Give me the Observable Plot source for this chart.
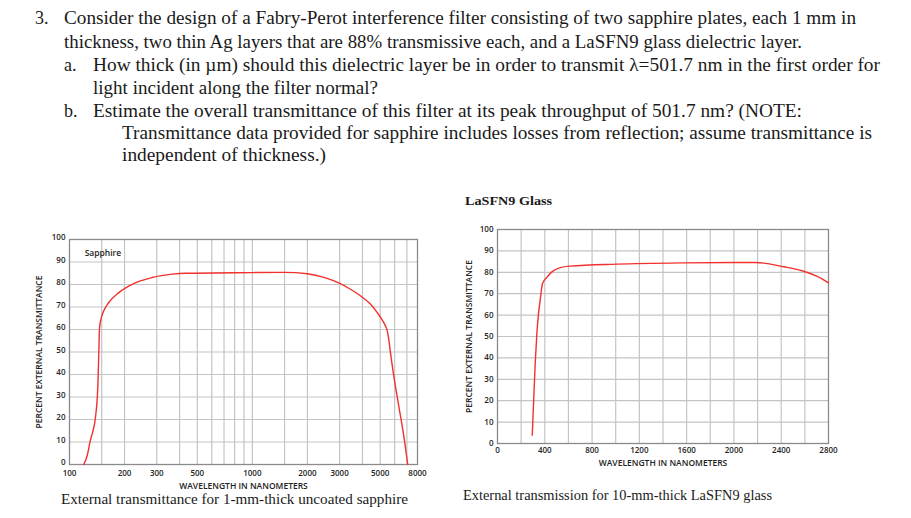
<!DOCTYPE html>
<html>
<head>
<meta charset="utf-8">
<script src="https://cdn.jsdelivr.net/npm/d3@7"></script>
<script src="https://cdn.jsdelivr.net/npm/@observablehq/plot@0.6"></script>
<style>
  html, body { margin: 0; padding: 0; background: #fff; }
  body { width: 911px; height: 518px; position: relative; overflow: hidden; }
  .ln { position: absolute; white-space: nowrap; font-family: "Liberation Serif", serif; font-size: 18px; line-height: 22px; color: #1a1a1a; transform-origin: left center; }
  .cap { position: absolute; white-space: nowrap; font-family: "Liberation Serif", serif; font-size: 14px; line-height: 16px; color: #1a1a1a; transform-origin: left center; }
  .ttl { position: absolute; white-space: nowrap; font-family: "Liberation Serif", serif; font-weight: bold; font-size: 12px; line-height: 14px; color: #1a1a1a; transform-origin: left center; }
  .chart { position: absolute; }
</style>
</head>
<body>
<script>
// ---- Data ----
const sapphireWavelength = [119.7, 125, 130, 134, 138.7, 142.8, 144.6, 145.9, 148.5, 153, 164, 186, 220, 283, 365, 431, 1000, 1500, 2000, 2348, 2990, 3440, 3900, 4420, 4810, 5125, 5343, 5450, 5569, 5689, 5933, 6317, 6727, 7073];
const sapphireTransmittance = [0, 4, 10.7, 14.5, 21, 34.4, 49.2, 60.5, 64.5, 67.8, 72, 76.4, 80.1, 83.1, 84.6, 85, 85.3, 85.4, 84.8, 83.6, 80.6, 77.9, 75.0, 71.3, 67.6, 64.3, 61.6, 59.8, 55.7, 49.8, 39.4, 26.1, 12.8, 0];
const sapphireTickLabels = [100, 200, 300, 500, 1000, 2000, 3000, 5000, 8000];
const sapphireGridX = [150, 200, 300, 400, 500, 600, 700, 800, 900, 1000, 1500, 2000, 3000, 4000, 5000, 6000, 7000];

const lasfnWavelength = [294, 305, 319, 333, 347, 361, 381, 418, 460, 531, 615, 1010, 1575, 2000, 2180, 2420, 2590, 2700, 2800];
const lasfnTransmittance = [3.9, 18.7, 37.4, 51.4, 60.7, 67, 74.8, 77.6, 80.2, 82.2, 82.9, 83.8, 84.4, 84.6, 84.6, 82.6, 80.5, 78.2, 75.1];
const lasfnTickLabels = [0, 400, 800, 1200, 1600, 2000, 2400, 2800];
const lasfnGridX = [200, 400, 600, 800, 1000, 1200, 1400, 1600, 1800, 2000, 2200, 2400, 2600];

const yTicks = [0, 10, 20, 30, 40, 50, 60, 70, 80, 90, 100];
const yGrid = [10, 20, 30, 40, 50, 60, 70, 80, 90];

const questionLines = [
  {num: "3.", numX: 35, text: "Consider the design of a Fabry-Perot interference filter consisting of two sapphire plates, each 1 mm in", x: 64, x2: 856, y: 18},
  {num: "", text: "thickness, two thin Ag layers that are 88% transmissive each, and a LaSFN9 glass dielectric layer.", x: 64, x2: 802, y: 41.5},
  {num: "a.", numX: 64, text: "How thick (in µm) should this dielectric layer be in order to transmit λ=501.7 nm in the first order for", x: 93, x2: 880, y: 65},
  {num: "", text: "light incident along the filter normal?", x: 93, x2: 378, y: 88},
  {num: "b.", numX: 64, text: "Estimate the overall transmittance of this filter at its peak throughput of 501.7 nm? (NOTE:", x: 93, x2: 802, y: 110.5},
  {num: "", text: "Transmittance data provided for sapphire includes losses from reflection; assume transmittance is", x: 122, x2: 872, y: 133},
  {num: "", text: "independent of thickness.)", x: 122, x2: 326, y: 155}
];
const otherTexts = [
  {cls: "ttl", text: "LaSFN9 Glass", x: 465, x2: 552, y: 201},
  {cls: "cap", text: "External transmittance for 1-mm-thick uncoated sapphire", x: 61, x2: 408, y: 500},
  {cls: "cap", text: "External transmission for 10-mm-thick LaSFN9 glass", x: 463, x2: 772, y: 496}
];
const sapphireNote = [{x: 121, y: 94, text: "Sapphire"}];

// ---- Text ----
function place(cls, text, x, x2, y) {
  const el = document.createElement("div");
  el.className = cls;
  el.textContent = text;
  document.body.appendChild(el);
  const h = el.getBoundingClientRect().height;
  el.style.left = x + "px";
  el.style.top = (y - h / 2) + "px";
  if (x2 != null) {
    const w = el.getBoundingClientRect().width;
    el.style.transform = `scaleX(${(x2 - x) / w})`;
  }
  return el;
}
for (const l of questionLines) {
  if (l.num) place("ln", l.num, l.numX, null, l.y);
  place("ln", l.text, l.x, l.x2, l.y);
}
for (const t of otherTexts) place(t.cls, t.text, t.x, t.x2, t.y);

// ---- Charts ----
const red = "#f2302e";
const gridColor = "#c4c4c4";
const axisFont = {fontFamily: "'Open Sans', sans-serif", fontSize: "8px", fontWeight: 600, color: "#222", background: "transparent", overflow: "visible"};

const sapphire = sapphireWavelength.map((w, i) => ({w, t: sapphireTransmittance[i]}));
const chart1 = Plot.plot({
  width: 412, height: 272,
  marginLeft: 49, marginRight: 15, marginTop: 13, marginBottom: 34,
  style: axisFont,
  x: {type: "log", domain: [100, 8000]},
  y: {domain: [0, 100]},
  marks: [
    Plot.gridX(sapphireGridX, {stroke: gridColor, strokeOpacity: 1, strokeWidth: 1.2}),
    Plot.gridY(yGrid, {stroke: gridColor, strokeOpacity: 1, strokeWidth: 1.2}),
    Plot.frame({stroke: "#8a8a8a", strokeWidth: 1.3}),
    Plot.text(sapphireTickLabels, {x: d => d, frameAnchor: "bottom", dy: 11, text: d => String(d), fontSize: 8, fontWeight: 600}),
    Plot.axisX({ticks: [], tickSize: 0, label: "WAVELENGTH IN NANOMETERS", labelAnchor: "center", labelArrow: "none", labelOffset: 24, dx: -10, fontSize: 8.5}),
    Plot.axisY(yTicks, {tickSize: 0, tickPadding: 4, label: null, dy: -2}),
    Plot.axisY({ticks: [], tickSize: 0, label: "PERCENT EXTERNAL TRANSMITTANCE", labelAnchor: "center", labelArrow: "none", labelOffset: 34, fontSize: 8.5}),
    Plot.text(sapphireNote, {x: "x", y: "y", text: "text", textAnchor: "start", fontSize: 8.5, fontWeight: 600}),
    Plot.line(sapphire, {x: "w", y: "t", stroke: red, strokeWidth: 1.4, curve: "monotone-x"})
  ]
});
chart1.classList.add("chart");
chart1.style.left = "20px";
chart1.style.top = "226px";
document.body.appendChild(chart1);

const lasfn = lasfnWavelength.map((w, i) => ({w, t: lasfnTransmittance[i]}));
const chart2 = Plot.plot({
  width: 398, height: 255,
  marginLeft: 47, marginRight: 20, marginTop: 11, marginBottom: 30,
  style: axisFont,
  x: {domain: [0, 2800]},
  y: {domain: [0, 100]},
  marks: [
    Plot.gridX(lasfnGridX, {stroke: gridColor, strokeOpacity: 1, strokeWidth: 1.2}),
    Plot.gridY(yGrid, {stroke: gridColor, strokeOpacity: 1, strokeWidth: 1.2}),
    Plot.frame({stroke: "#8a8a8a", strokeWidth: 1.3}),
    Plot.axisX(lasfnTickLabels, {tickSize: 0, tickPadding: 4, tickFormat: d => String(d), label: null}),
    Plot.axisX({ticks: [], tickSize: 0, label: "WAVELENGTH IN NANOMETERS", labelAnchor: "center", labelArrow: "none", labelOffset: 22, dx: 15, fontSize: 8.5}),
    Plot.axisY(yTicks, {tickSize: 0, tickPadding: 4, label: null}),
    Plot.axisY({ticks: [], tickSize: 0, label: "PERCENT EXTERNAL TRANSMITTANCE", labelAnchor: "center", labelArrow: "none", labelOffset: 32, fontSize: 8.5}),
    Plot.line(lasfn, {x: "w", y: "t", stroke: red, strokeWidth: 1.4, curve: "monotone-x"})
  ]
});
chart2.classList.add("chart");
chart2.style.left = "450px";
chart2.style.top = "218px";
document.body.appendChild(chart2);
</script>
</body>
</html>
